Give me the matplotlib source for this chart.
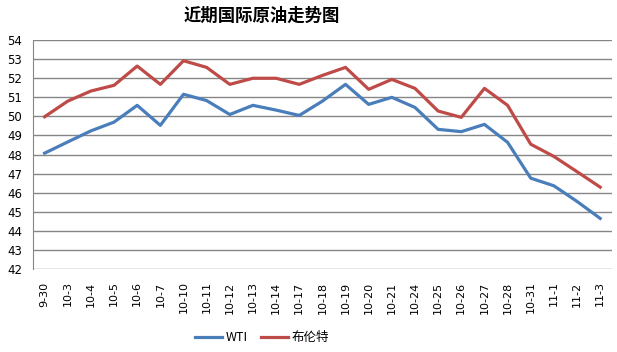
import matplotlib
matplotlib.use("Agg")
import matplotlib.pyplot as plt

plt.rcParams['font.family'] = ['Noto Sans CJK SC', 'DejaVu Sans']

dates = ["9-30", "10-3", "10-4", "10-5", "10-6", "10-7", "10-10", "10-11", "10-12",
         "10-13", "10-14", "10-17", "10-18", "10-19", "10-20", "10-21", "10-24",
         "10-25", "10-26", "10-27", "10-28", "10-31", "11-1", "11-2", "11-3"]
wti = [48.07, 48.66, 49.24, 49.70, 50.58, 49.53, 51.16, 50.83, 50.10, 50.58, 50.33,
       50.05, 50.80, 51.68, 50.63, 51.00, 50.47, 49.32, 49.20, 49.58, 48.64, 46.76,
       46.36, 45.54, 44.65]
brent = [49.98, 50.80, 51.33, 51.63, 52.64, 51.68, 52.92, 52.57, 51.68, 52.00, 52.00,
         51.68, 52.15, 52.57, 51.42, 51.94, 51.47, 50.28, 49.95, 51.47, 50.58, 48.54,
         47.90, 47.10, 46.29]

fig = plt.figure(figsize=(6.17, 3.52), dpi=100)
ax = fig.add_axes([0.0535, 0.236, 0.938, 0.65])

x = range(len(dates))
ax.plot(x, wti, color="#4A7EBB", lw=2.3, label="WTI")
ax.plot(x, brent, color="#BE4B48", lw=2.3, label="布伦特")

ax.set_xlim(-0.5, len(dates) - 0.5)
ax.set_ylim(42, 54)
ax.set_yticks(range(42, 55))
ax.set_xticks(list(x))
ax.set_xticklabels(dates, rotation=90, fontsize=8, family="DejaVu Sans")
ax.tick_params(axis="y", labelsize=8.5, length=0, pad=8)
ax.tick_params(axis="x", length=0, pad=9)
for lab in ax.get_yticklabels():
    lab.set_family("DejaVu Sans")

ax.grid(axis="y", color="#868686", lw=1)
ax.set_axisbelow(True)
for s in ["top", "right", "bottom"]:
    ax.spines[s].set_visible(False)
ax.spines["left"].set_color("#868686")

fig.text(0.425, 0.955, "近期国际原油走势图", ha="center", va="center",
         fontsize=12.5, fontweight="bold")
fig.legend(loc="center", bbox_to_anchor=(0.425, 0.04), ncol=2, frameon=False,
           fontsize=9, handlelength=2.2, columnspacing=1.0, handletextpad=0.3)

fig.savefig("out.png", dpi=100)
